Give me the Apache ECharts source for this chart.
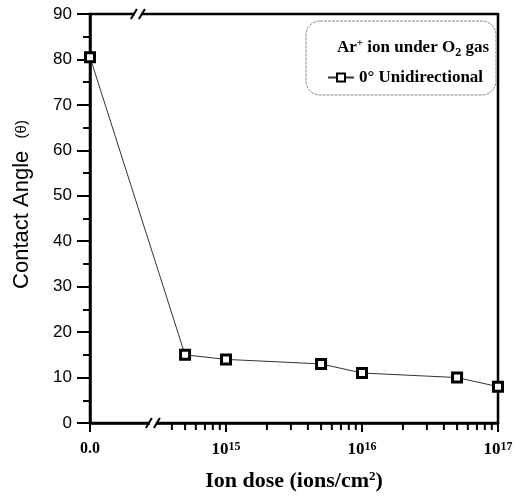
<!DOCTYPE html>
<html><head><meta charset="utf-8">
<script src="https://cdn.jsdelivr.net/npm/echarts@6/dist/echarts.min.js"></script>
<style>html,body{margin:0;padding:0;background:#fff}#c{width:531px;height:497px}</style>
</head><body><div id="c"></div>
<script>
// ---- data ----
const doses = [0, 5e14, 1e15, 5e15, 1e16, 5e16, 1e17];   // ions/cm^2 (0 = unirradiated, drawn at axis break origin)
const angles = [80.5, 15, 14, 13, 11, 10, 8];            // contact angle (deg)
const axisOrigin = 1e14;                                  // log-axis position shown as "0.0"
const majorTickValues = [1e14, 1e15, 1e16, 1e17];
const majorTickLabels = ['{z|0.0}', '{b|10}{s|15}', '{b|10}{s|16}', '{b|10}{s|17}'];
const minorTickValues = [4e14,5e14,6e14,7e14,8e14,9e14,
  2e15,3e15,4e15,5e15,6e15,7e15,8e15,9e15,
  2e16,3e16,4e16,5e16,6e16,7e16,8e16,9e16];
const seriesName = '0° Unidirectional';

const chart = echarts.init(document.getElementById('c'), null, {renderer:'canvas'});
const serif = '"Liberation Serif","Times New Roman",serif';
const sans = '"Liberation Sans",Arial,sans-serif';

const option = {
  animation: false,
  backgroundColor: '#fff',
  grid: {left: 90, right: 33, top: 14, bottom: 69, show: true, borderColor: '#000', borderWidth: 2.5, backgroundColor: 'transparent'},
  title: {
    text: '{a|Ar}{s|+}{a| ion under O}{d|2}{a| gas}',
    left: 408, top: 32, textAlign: 'center',
    textStyle: {rich: {
      a: {fontFamily: serif, fontWeight: 'bold', fontSize: 17, color: '#000'},
      s: {fontFamily: serif, fontWeight: 'bold', fontSize: 11, color: '#000', padding: [0,0,9,0]},
      d: {fontFamily: serif, fontWeight: 'bold', fontSize: 12, color: '#000', padding: [10,0,0,0]}
    }}
  },
  legend: {
    left: 322, top: 64, itemWidth: 26, itemHeight: 10, itemGap: 4,
    data: [seriesName],
    textStyle: {fontFamily: serif, fontWeight: 'bold', fontSize: 17, color: '#000'}
  },
  xAxis: {
    type: 'log', logBase: 10, min: majorTickValues[0], max: majorTickValues[majorTickValues.length-1],
    name: 'Ion dose (ions/cm{s|2})', nameLocation: 'middle', nameGap: 47,
    nameTextStyle: {fontFamily: serif, fontWeight: 'bold', fontSize: 22, color: '#000',
      rich: {s: {fontFamily: serif, fontWeight: 'bold', fontSize: 13, color: '#000', padding: [0,0,9,0]}}},
    axisLine: {show: true, lineStyle: {color: '#000', width: 2.5}},
    axisTick: {show: true, inside: false, length: 9, lineStyle: {color: '#000', width: 2}},
    splitLine: {show: false},
    axisLabel: {
      margin: 18, fontFamily: serif, fontWeight: 'bold', fontSize: 16, color: '#000',
      formatter: function (v) {
        const i = majorTickValues.findIndex(t => Math.abs(Math.log10(t) - Math.log10(v)) < 1e-6);
        return i >= 0 ? majorTickLabels[i] : '';
      },
      rich: {
        z: {fontFamily: serif, fontWeight: 'bold', fontSize: 16, color: '#000'},
        b: {fontFamily: serif, fontWeight: 'bold', fontSize: 17, color: '#000'},
        s: {fontFamily: serif, fontWeight: 'bold', fontSize: 12, color: '#000', padding: [0,0,6,0]}
      }
    }
  },
  yAxis: {
    type: 'value', min: 0, max: 90, interval: 10,
    name: 'Contact Angle  {s|(θ)}', nameLocation: 'middle', nameGap: 57, nameRotate: 90,
    nameTextStyle: {fontFamily: sans, fontSize: 22, color: '#000', padding: [0, 0, 0, 28],
      rich: {s: {fontFamily: sans, fontSize: 15, color: '#000'}}},
    axisLine: {show: true, lineStyle: {color: '#000', width: 2.5}},
    axisTick: {show: true, inside: false, length: 13, lineStyle: {color: '#000', width: 2}},
    minorTick: {show: true, splitNumber: 2, length: 7, lineStyle: {color: '#000', width: 2}},
    splitLine: {show: false},
    axisLabel: {margin: 18, fontFamily: sans, fontSize: 17, color: '#000'}
  },
  series: [
    {
      name: seriesName, type: 'line',
      data: doses.map((d, i) => [d === 0 ? axisOrigin : d, angles[i]]),
      symbol: 'rect', symbolSize: 9, showAllSymbol: true,
      lineStyle: {color: '#333', width: 1},
      itemStyle: {color: '#fff', borderColor: '#000', borderWidth: 3},
      z: 5
    },
    {
      type: 'custom', silent: true, clip: false,
      data: minorTickValues.map(v => [v, 0]),
      renderItem: function (params, api) {
        const p = api.coord([api.value(0), 0]);
        return {type: 'line', shape: {x1: p[0], y1: p[1], x2: p[0], y2: p[1] + 7},
          style: {stroke: '#000', lineWidth: 2}};
      },
      z: 3
    }
  ]
};
chart.setOption(option);

// axis break decorations + legend box
const yTopPx = chart.convertToPixel({yAxisIndex: 0}, 90);
const yBotPx = chart.convertToPixel({yAxisIndex: 0}, 0);
const xTopBrk = chart.convertToPixel({xAxisIndex: 0}, 2.25e14);
const xBotBrk = chart.convertToPixel({xAxisIndex: 0}, 2.9e14);
function brk(x, y) {
  return [
    {type: 'rect', shape: {x: x - 3, y: y - 3, width: 6, height: 6}, style: {fill: '#fff'}, z: 100},
    {type: 'line', shape: {x1: x - 7, y1: y + 5, x2: x - 1, y2: y - 5}, style: {stroke: '#000', lineWidth: 2}, z: 101},
    {type: 'line', shape: {x1: x + 1, y1: y + 5, x2: x + 7, y2: y - 5}, style: {stroke: '#000', lineWidth: 2}, z: 101}
  ];
}
chart.setOption({
  graphic: [].concat(brk(xTopBrk, yTopPx), brk(xBotBrk, yBotPx), [
    {type: 'rect', shape: {x: 306, y: 21, width: 190, height: 74, r: 14},
      style: {fill: 'none', stroke: '#888', lineWidth: 1, lineDash: [3, 1]}, z: 50}
  ])
});
</script></body></html>
